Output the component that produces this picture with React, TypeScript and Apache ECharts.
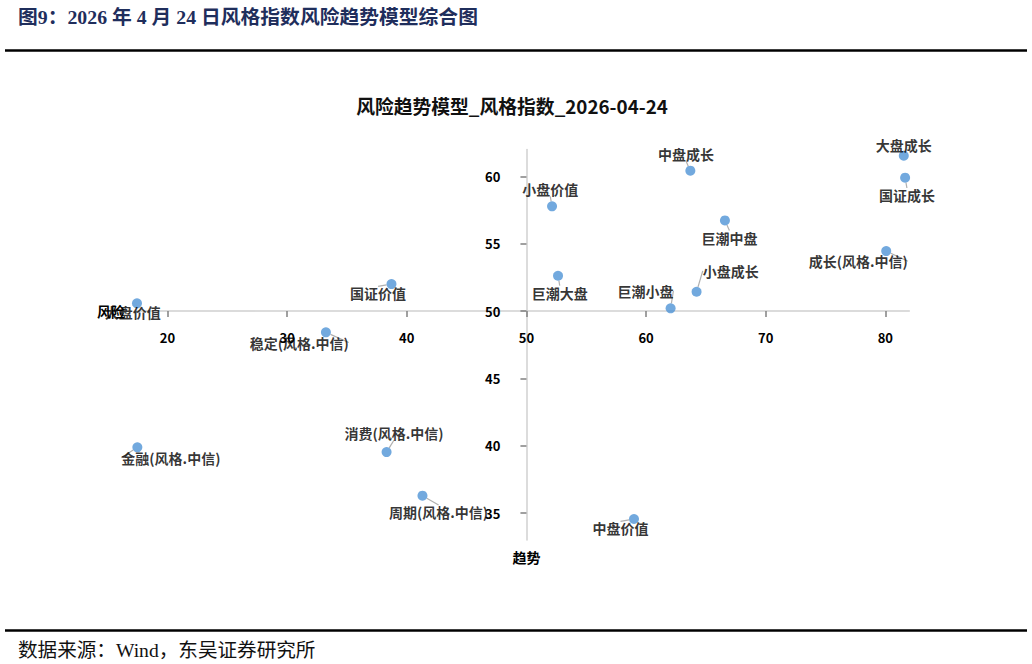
import React, { useEffect, useRef } from "react";
import * as echarts from "echarts";

const headerText = "图9：2026 年 4 月 24 日风格指数风险趋势模型综合图";
const footerText = "数据来源：Wind，东吴证券研究所";
const chartTitle = "风险趋势模型_风格指数_2026-04-24";
const xAxisName = "风险";
const yAxisName = "趋势";

const styleNames = [
  "大盘成长",
  "国证成长",
  "中盘成长",
  "小盘价值",
  "巨潮中盘",
  "成长(风格.中信)",
  "巨潮大盘",
  "小盘成长",
  "巨潮小盘",
  "国证价值",
  "大盘价值",
  "稳定(风格.中信)",
  "金融(风格.中信)",
  "消费(风格.中信)",
  "周期(风格.中信)",
  "中盘价值",
];
const riskValues = [81.54, 81.65, 63.7, 52.14, 66.59, 80.07, 52.64, 64.22, 62.05, 38.72, 17.45, 33.24, 17.48, 38.31, 41.31, 58.99];
const trendValues = [61.53, 59.9, 60.42, 57.77, 56.73, 54.45, 52.62, 51.43, 50.2, 52.0, 50.57, 48.42, 39.88, 39.53, 36.29, 34.56];

const xTicks = [20, 30, 40, 50, 60, 70, 80];
const yTicks = [35, 40, 45, 50, 55, 60];
const xRange = [17.45, 82];
const yRange = [33, 62];
const crossX = 50;
const crossY = 50;

// label placement (text centre relative to the point, in px)
const labelOffsets = [
  [0, -10.4],
  [1.8, 17.3],
  [-4.4, -16.7],
  [-1.8, -17.1],
  [4.5, 17.2],
  [-27.9, 10.2],
  [1.7, 16.8],
  [34.2, -20.9],
  [-25.2, -17.5],
  [-13.4, 9.3],
  [-4.2, 9],
  [-26.7, 10.2],
  [33.5, 10.5],
  [7.5, -19],
  [16.1, 16.3],
  [-13.5, 9.3],
];

const W = 1032;
const H = 664;
const gridLeft = 137;
const gridRight = 122.7;
const gridTop = 149.4;
const gridBottom = 124;

const sans = '"Noto Sans CJK SC", "Noto Sans", sans-serif';
const serif = '"Liberation Serif", "Noto Sans CJK SC", serif';

export default function App() {
  const ref = useRef<HTMLDivElement>(null);
  useEffect(() => {
    if (!ref.current) return;
    const chart = echarts.init(ref.current, undefined, { renderer: "svg" });
    const gridW = W - gridLeft - gridRight;
    const gridH = H - gridTop - gridBottom;
    const xOffset = -((crossY - yRange[0]) / (yRange[1] - yRange[0])) * gridH;
    const yOffset = -((crossX - xRange[0]) / (xRange[1] - xRange[0])) * gridW;

    const axisLabelStyle = { color: "#000", fontWeight: "bold" as const, fontSize: 13, fontFamily: sans };

    chart.setOption({
      animation: false,
      backgroundColor: "#fff",
      title: {
        text: chartTitle,
        left: 512,
        top: 96,
        padding: 0,
        textAlign: "center",
        textStyle: { fontSize: 18.8, fontWeight: "bold", color: "#111", fontFamily: sans },
      },
      graphic: [
        {
          type: "text",
          x: 18,
          y: 17,
          style: {
            text: headerText,
            fill: "#1f2e5c",
            font: `bold 19.8px ${serif}`,
            verticalAlign: "middle",
          },
        },
        {
          type: "line",
          shape: { x1: 5, y1: 50.5, x2: 1027, y2: 50.5 },
          style: { stroke: "#000", lineWidth: 2.5 },
        },
        {
          type: "line",
          shape: { x1: 5, y1: 630.5, x2: 1027, y2: 630.5 },
          style: { stroke: "#000", lineWidth: 2.5 },
        },
        {
          type: "text",
          x: 18,
          y: 650,
          style: {
            text: footerText,
            fill: "#111",
            font: `19.6px ${serif}`,
            verticalAlign: "middle",
          },
        },
      ],
      grid: { left: gridLeft, right: gridRight, top: gridTop, bottom: gridBottom },
      xAxis: {
        type: "value",
        min: xRange[0],
        max: xRange[1],
        position: "bottom",
        offset: xOffset,
        name: xAxisName,
        nameLocation: "start",
        nameGap: 12,
        nameTextStyle: { color: "#000", fontWeight: "bold", fontSize: 14, fontFamily: sans },
        axisLine: { show: true, lineStyle: { color: "#d0d0d0", width: 1.5 } },
        axisTick: { show: true, length: 6, customValues: xTicks, lineStyle: { color: "#808080", width: 1.5 } },
        axisLabel: { ...axisLabelStyle, margin: 20, customValues: xTicks },
        splitLine: { show: false },
      },
      yAxis: {
        type: "value",
        min: yRange[0],
        max: yRange[1],
        position: "left",
        offset: yOffset,
        name: yAxisName,
        nameLocation: "start",
        nameGap: 10,
        nameTextStyle: { color: "#000", fontWeight: "bold", fontSize: 14, fontFamily: sans },
        axisLine: { show: true, lineStyle: { color: "#d0d0d0", width: 1.5 } },
        axisTick: { show: true, length: 6, customValues: yTicks, lineStyle: { color: "#808080", width: 1.5 } },
        axisLabel: { ...axisLabelStyle, margin: 26, customValues: yTicks },
        splitLine: { show: false },
      },
      series: [
        {
          type: "scatter",
          data: styleNames.map((n, i) => ({ name: n, value: [riskValues[i], trendValues[i]] })),
          symbolSize: 10,
          itemStyle: { color: "#4f93d6" },
          label: {
            show: true,
            position: "inside",
            formatter: "{b}",
            color: "#000",
            fontWeight: "bold",
            fontSize: 14,
            fontFamily: sans,
          },
          labelLine: { show: true, lineStyle: { color: "#b0b0b0", width: 1.2 } },
          labelLayout: (p: any) => ({
            dx: labelOffsets[p.dataIndex][0],
            dy: labelOffsets[p.dataIndex][1],
          }),
          emphasis: { disabled: true },
        },
      ],
    });
    return () => chart.dispose();
  }, []);
  return (
    <div
      ref={ref}
      style={{ position: "absolute", left: 0, top: 0, width: W, height: H }}
    />
  );
}
